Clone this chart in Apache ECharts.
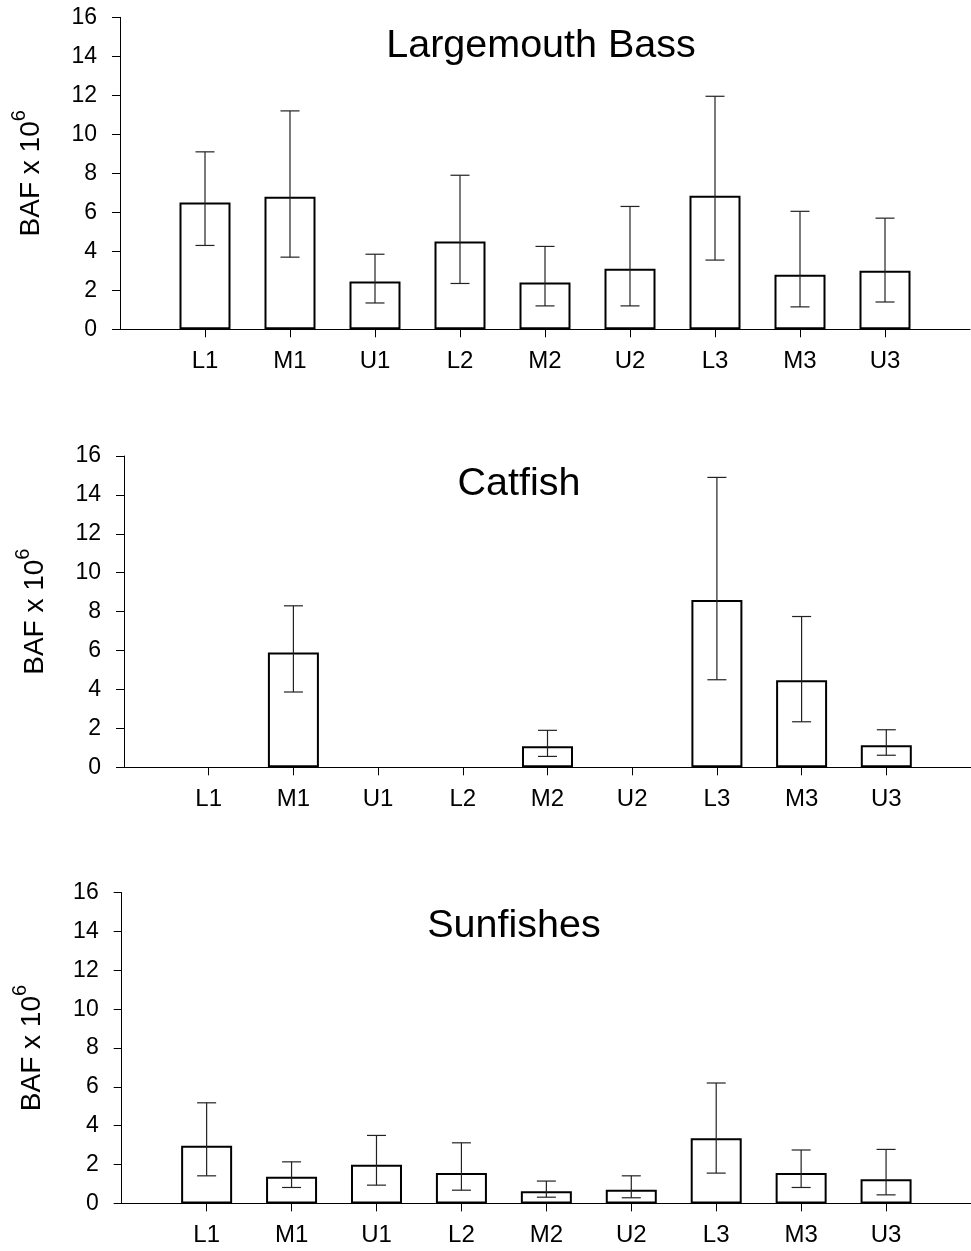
<!DOCTYPE html>
<html>
<head>
<meta charset="utf-8">
<script src="https://cdn.jsdelivr.net/npm/echarts@6/dist/echarts.min.js"></script>
<style>
	html, body { margin: 0; padding: 0; background: #fff; }
	#chart { width: 971px; height: 1251px; }
</style>
</head>
<body>
<div id="chart"></div>
<script>
// sites along the river
var categories = ['L1', 'M1', 'U1', 'L2', 'M2', 'U2', 'L3', 'M3', 'U3'];
var yTicks = [0, 2, 4, 6, 8, 10, 12, 14, 16];

// BAF x 10^6, mean with upper / lower error bar ends
var bassMean  = [6.5, 6.8, 2.45, 4.5, 2.4, 3.1, 6.85, 2.8, 3.0];
var bassUpper = [9.1, 11.2, 3.85, 7.9, 4.25, 6.3, 11.95, 6.05, 5.7];
var bassLower = [4.3, 3.7, 1.35, 2.35, 1.2, 1.2, 3.55, 1.15, 1.4];

var catMean  = [null, 5.9, null, null, 1.08, null, 8.6, 4.47, 1.13];
var catUpper = [null, 8.3, null, null, 1.9, null, 14.9, 7.75, 1.93];
var catLower = [null, 3.87, null, null, 0.56, null, 4.5, 2.34, 0.62];

var sunMean  = [2.97, 1.37, 1.99, 1.57, 0.63, 0.70, 3.36, 1.57, 1.25];
var sunUpper = [5.18, 2.14, 3.5, 3.12, 1.15, 1.42, 6.2, 2.75, 2.78];
var sunLower = [1.42, 0.82, 0.94, 0.68, 0.32, 0.29, 1.56, 0.82, 0.44];

var panels = [
	{ title: 'Largemouth Bass', mean: bassMean, upper: bassUpper, lower: bassLower },
	{ title: 'Catfish', mean: catMean, upper: catUpper, lower: catLower },
	{ title: 'Sunfishes', mean: sunMean, upper: sunUpper, lower: sunLower }
];

var font = 'Liberation Sans, Arial, sans-serif';
var positions = categories.map(function (c, i) { return i + 1; });

// grid boxes per panel
var grids = [
	{ left: 120, top: 17.3, width: 850, height: 312 },
	{ left: 124, top: 456, width: 847, height: 311.3 },
	{ left: 121.7, top: 892.7, width: 860, height: 310.7 }
];
var titlePos = [[541, 46], [519, 484.5], [514, 926]];

var option = {
	backgroundColor: '#fff',
	animation: false,
	grid: [],
	xAxis: [],
	yAxis: [],
	series: [],
	graphic: []
};

panels.forEach(function (p, k) {
	option.grid.push(grids[k]);
	option.xAxis.push({
		type: 'value',
		gridIndex: k,
		min: 0,
		max: 10,
		interval: 1,
		axisLine: { show: true, lineStyle: { color: '#000', width: 1 } },
		axisTick: { show: true, length: 8, customValues: positions, lineStyle: { color: '#000' } },
		axisLabel: {
			customValues: positions,
			formatter: function (v) { return categories[v - 1] || ''; },
			fontSize: 24, color: '#000', fontFamily: font, margin: 20
		},
		splitLine: { show: false }
	});
	option.yAxis.push({
		type: 'value',
		gridIndex: k,
		min: yTicks[0],
		max: yTicks[yTicks.length - 1],
		interval: 2,
		axisLine: { show: true, lineStyle: { color: '#000', width: 1 } },
		axisTick: { show: true, length: 8, lineStyle: { color: '#000' } },
		axisLabel: { fontSize: 23, color: '#000', fontFamily: font, margin: 23 },
		splitLine: { show: false },
		name: '{a|BAF x 10}{s|6}',
		nameLocation: 'middle',
		nameRotate: 90,
		nameGap: 75,
		nameTextStyle: {
			color: '#000',
			fontFamily: font,
			rich: {
				a: { fontSize: 28, fontFamily: font, color: '#000', lineHeight: 36, verticalAlign: 'bottom' },
				s: { fontSize: 20, fontFamily: font, color: '#000', lineHeight: 20, verticalAlign: 'top' }
			}
		}
	});

	var barData = [], errData = [];
	for (var i = 0; i < categories.length; i++) {
		if (p.mean[i] == null) continue;
		barData.push([positions[i], p.mean[i]]);
		errData.push([positions[i], p.upper[i], p.lower[i]]);
	}

	option.series.push({
		type: 'bar',
		xAxisIndex: k,
		yAxisIndex: k,
		barWidth: 51,
		data: barData,
		itemStyle: { color: '#fff', borderColor: '#000', borderWidth: 2 },
		z: 2
	});
	option.series.push({
		type: 'custom',
		xAxisIndex: k,
		yAxisIndex: k,
		data: errData,
		encode: { x: 0, y: [1, 2] },
		z: 3,
		renderItem: function (params, api) {
			var top = api.coord([api.value(0), api.value(1)]);
			var bot = api.coord([api.value(0), api.value(2)]);
			var half = 9.5;
			var st = { stroke: '#222', lineWidth: 1.2 };
			return {
				type: 'group',
				children: [
					{ type: 'line', shape: { x1: top[0], y1: top[1], x2: bot[0], y2: bot[1] }, style: st },
					{ type: 'line', shape: { x1: top[0] - half, y1: top[1], x2: top[0] + half, y2: top[1] }, style: st },
					{ type: 'line', shape: { x1: bot[0] - half, y1: bot[1], x2: bot[0] + half, y2: bot[1] }, style: st }
				]
			};
		}
	});

	option.graphic.push({
		type: 'text',
		x: titlePos[k][0],
		y: titlePos[k][1],
		style: {
			text: p.title,
			fontSize: 39.5,
			fontFamily: font,
			fill: '#000',
			align: 'center',
			verticalAlign: 'middle'
		}
	});
});

echarts.init(document.getElementById('chart'), null, { renderer: 'canvas' }).setOption(option);
</script>
</body>
</html>
